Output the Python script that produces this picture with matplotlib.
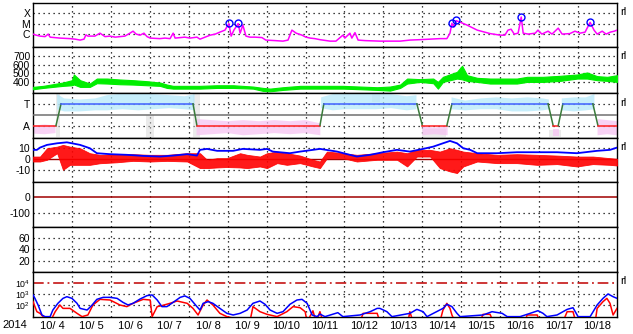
import numpy as np
import matplotlib
matplotlib.use('Agg')
import matplotlib.pyplot as plt
from matplotlib.ticker import NullLocator

plt.rcParams['font.family'] = ['Liberation Sans', 'DejaVu Sans']
plt.rcParams['font.size'] = 7.5
plt.rcParams['mathtext.default'] = 'regular'

nan = np.nan

# --- x-ray flux (log10 W/m2), time in day of October 2014
xray_t = [4.00, 4.08, 4.18, 4.31, 4.39, 4.44, 4.69, 4.95, 5.08, 5.21, 5.31, 5.36, 5.41, 5.59, 5.72,
          5.85, 5.98, 6.11, 6.36, 6.49, 6.57, 6.65, 6.75, 6.85, 6.93, 7.01, 7.26, 7.39, 7.52, 7.60,
          7.65, 7.90, 8.03, 8.21, 8.29, 8.42, 8.55, 8.68, 8.80, 8.93, 9.03, 9.09, 9.16, 9.27, 9.32,
          9.39, 9.47, 9.57, 9.70, 9.88, 9.98, 10.22, 10.42, 10.55, 10.65, 10.76, 10.91, 11.01, 11.12,
          11.24, 11.37, 11.63, 11.78, 11.96, 12.01, 12.14, 12.19, 12.27, 12.35, 12.53, 12.91, 13.43,
          13.68, 13.94, 14.20, 14.45, 14.63, 14.71, 14.76, 14.81, 14.87, 14.97, 15.15, 15.41, 15.74,
          16.00, 16.12, 16.20, 16.28, 16.36, 16.46, 16.54, 16.59, 16.72, 16.90, 16.97, 17.07, 17.23,
          17.33, 17.49, 17.59, 17.79, 17.92, 18.05, 18.18, 18.31, 18.41, 18.49, 18.62, 18.72, 18.83,
          18.93, 19.00]
xray_log = [-5.97, -6.07, -6.16, -6.21, -5.97, -6.26, -6.35, -6.40, -6.45, -6.54, -6.45, -6.04, -6.16, -6.16, -5.88,
            -6.21, -6.16, -6.26, -6.16, -5.88, -5.69, -5.97, -6.07, -5.88, -6.21, -6.35, -6.40, -6.35, -6.40, -5.88,
            -6.35, -6.26, -6.35, -6.26, -6.45, -6.26, -6.07, -5.97, -5.78, -5.59, -4.97, -6.16, -5.59, -4.97, -5.88,
            -5.11, -6.16, -6.26, -6.26, -6.30, -6.54, -6.59, -6.64, -6.54, -5.59, -5.88, -6.07, -6.26, -6.35,
            -6.40, -6.50, -6.64, -6.64, -6.07, -6.35, -5.88, -6.35, -5.83, -6.54, -6.59, -6.64, -6.64,
            -6.54, -6.50, -6.45, -6.40, -6.40, -5.88, -4.94, -5.30, -4.69, -4.83, -5.11, -5.59, -5.92,
            -6.07, -6.07, -5.59, -5.50, -5.97, -5.88, -4.34, -5.88, -5.97, -5.88, -5.59, -5.97, -5.69,
            -5.97, -5.40, -5.97, -5.92, -5.69, -5.88, -5.78, -4.85, -5.59, -5.97, -5.69, -5.97, -5.78,
            -5.69, -5.59]
flare_t = [9.03, 9.27, 14.76, 14.87, 16.54, 18.31]
flare_log = [-4.94, -4.94, -4.92, -4.67, -4.32, -4.83]

# --- solar wind speed band (km/s)
sw_t = [4.00, 4.26, 4.51, 4.77, 5.00, 5.05, 5.21, 5.46, 5.64, 5.90, 6.23, 6.57, 6.93, 7.26, 7.44,
        7.60, 7.96, 8.29, 8.72, 9.14, 9.65, 9.91, 10.09, 10.42, 10.86, 11.30, 11.72, 11.96, 12.40,
        12.84, 13.17, 13.43, 13.61, 13.94, 14.28, 14.40, 14.53, 14.89, 15.02, 15.15, 15.41, 15.74,
        16.08, 16.43, 16.69, 17.10, 17.54, 17.98, 18.23, 18.49, 18.75, 19.00]
sw_lo = [315, 330, 342, 354, 361, 370, 342, 342, 385, 381, 373, 369, 361, 354, 330,
         322, 322, 322, 330, 330, 322, 295, 291, 307, 322, 322, 322, 322, 315,
         307, 299, 330, 381, 400, 385, 322, 400, 439, 430, 412, 400, 381,
         381, 381, 400, 400, 412, 439, 439, 420, 412, 400]
sw_hi = [342, 354, 373, 393, 420, 486, 420, 381, 439, 439, 428, 420, 408, 393, 369,
         354, 354, 354, 361, 361, 346, 330, 322, 338, 354, 354, 354, 354, 346,
         338, 346, 369, 439, 432, 439, 400, 459, 517, 588, 478, 447, 439,
         439, 439, 459, 459, 471, 486, 510, 467, 459, 478]

# --- IMF sector (T = +1, A = -1)
sector_t = [4.00, 4.59, 4.72, 8.11, 8.21, 11.37, 11.47, 13.86, 14.00, 14.63, 14.76, 17.23,
            17.36, 17.49, 17.61, 18.38, 18.51, 19.00]
sector_v = [-1, -1, 1, 1, -1, -1, 1, 1, -1, -1, 1, 1, -1, -1, 1, 1, -1, -1]
cyan_t = [4.62, 4.80, 5.20, 5.60, 5.90, 6.30, 6.70, 7.10, 7.50, 7.90, 8.15, nan,
          11.40, 11.70, 12.00, 12.40, 12.80, 13.20, 13.60, 13.85, nan,
          14.75, 15.10, 15.50, 15.90, 16.30, 16.70, 17.10, 17.25, nan,
          17.58, 17.90, 18.20, 18.42]
cyan_lo = [0.5, 0.3, 0.3, 0.4, 0.4, 0.5, 0.4, 0.5, 0.6, 0.5, 0.4, nan,
           0.6, 0.4, 0.5, 0.5, 0.5, 0.6, 0.4, 0.5, nan,
           0.5, 0.4, 0.5, 0.5, 0.3, 0.3, 0.4, 0.5, nan,
           0.4, 0.3, 0.4, 0.5]
cyan_hi = [1.9, 1.5, 1.4, 1.5, 1.8, 1.95, 1.95, 1.9, 1.8, 1.7, 1.9, nan,
           1.6, 1.9, 1.95, 1.95, 1.95, 1.9, 1.7, 1.8, nan,
           1.6, 1.3, 1.5, 1.6, 1.5, 1.6, 1.5, 1.4, nan,
           1.5, 1.6, 1.6, 1.9]
pink_t = [4.0, 4.3, 4.58, nan, 8.2, 8.6, 9.0, 9.4, 9.8, 10.2, 10.6, 11.0, 11.38, nan,
          14.0, 14.3, 14.65, nan, 17.35, 17.5, nan, 18.5, 18.75, 19.0]
pink_lo = [-1.75, -1.8, -1.7, nan, -1.9, -1.8, -1.7, -1.9, -1.8, -1.7, -1.8, -1.7, -1.9, nan,
           -1.9, -1.8, -1.9, nan, -2.0, -2.0, nan, -1.9, -1.8, -1.9]
pink_hi = [-1.0, -0.9, -1.0, nan, -0.4, -0.5, -0.6, -0.5, -0.6, -0.5, -0.6, -0.5, -0.8, nan,
           -1.0, -1.2, -1.0, nan, -1.3, -1.3, nan, -0.4, -0.5, -0.6]
gray_t = [4.58, 4.70, nan, 6.90, 7.10, nan, 8.10, 8.30, nan, 12.70, 12.90, nan, 14.0, 14.6, nan, 17.25, 17.55]
gray_lo = [-2.1, -2.1, nan, -2.1, -2.1, nan, -2.1, -2.1, nan, 1.2, 1.2, nan, -2.1, -2.1, nan, -2.1, -2.1]
gray_hi = [1.9, 1.9, nan, 0.0, 0.0, nan, 1.9, 1.9, nan, 1.9, 1.9, nan, -1.3, -1.3, nan, -1.4, -1.4]

# --- IMF Bt (blue) and Bz envelope (red), nT
bt_t = [4.00, 4.10, 4.18, 4.36, 4.62, 4.87, 5.00, 5.21, 5.46, 5.64, 5.98, 6.41, 6.83, 7.26, 7.60,
        7.96, 8.21, 8.29, 8.47, 8.73, 9.14, 9.39, 9.83, 10.01, 10.16, 10.60, 10.86, 11.19, 11.37,
        11.81, 12.07, 12.32, 12.66, 12.99, 13.35, 13.68, 14.02, 14.28, 14.53, 14.71, 14.89, 15.05,
        15.23, 15.41, 15.92, 16.43, 16.95, 17.46, 17.97, 18.49, 18.82, 19.00]
bt_v = [8.5, 8.5, 10.6, 13.1, 14.6, 15.5, 14.6, 13.1, 10.0, 5.4, 4.5, 3.9, 2.9, 2.3, 3.2,
        4.5, 3.2, 8.5, 9.4, 7.6, 7.6, 9.4, 8.5, 9.4, 6.9, 5.4, 6.9, 8.5, 9.4,
        6.9, 4.5, 2.3, 3.9, 6.3, 8.5, 6.9, 9.4, 11.5, 14.6, 16.8, 14.6, 10.0,
        8.5, 5.4, 5.4, 6.3, 6.3, 6.3, 5.4, 7.6, 8.5, 10.6]
bz_t = [4.00, 4.18, 4.36, 4.62, 4.77, 4.95, 5.21, 5.46, 5.72, 6.16, 6.57, 7.01, 7.44, 7.96, 8.29,
        8.47, 8.73, 8.98, 9.32, 9.50, 9.83, 10.01, 10.27, 10.52, 10.86, 11.19, 11.37, 11.55, 11.96,
        12.32, 12.84, 13.35, 13.61, 13.86, 14.20, 14.45, 14.71, 14.89, 15.05, 15.41, 15.92, 16.43,
        16.95, 17.46, 17.97, 18.38, 18.82, 19.00]
bz_hi = [2.3, 2.3, 10.0, 11.5, 13.1, 11.5, 10.0, 5.4, 3.9, 4.5, 4.5, 3.9, 3.9, 5.4, 5.4,
         -0.7, 0.8, 0.8, 5.4, 3.9, 2.3, 5.4, 6.9, 5.4, 3.2, -0.7, -2.3, 6.9, 5.4,
         3.9, 5.4, 6.9, 5.4, 8.5, 8.5, 6.9, 10.0, 8.5, 6.9, 5.4, 3.9, 4.5,
         3.9, 3.2, 2.3, 2.3, 0.8, 0.2]
bz_lo = [-2.3, -2.3, -0.7, 5.4, -10.0, -5.4, -5.4, -5.4, -3.9, -3.0, -1.7, -2.3, -1.7, -2.3, -8.4,
         -8.4, -7.8, -7.4, -7.8, -8.4, -6.9, -8.4, -3.8, -5.4, -3.8, -6.9, -8.4, 0.8, 0.8,
         -2.3, -0.7, -0.7, -6.9, 2.3, 2.3, -8.4, -11.5, -13.0, -6.9, -2.3, -3.8, -3.8,
         -5.4, -4.7, -6.9, -4.7, -5.4, -6.0]

# --- bottom panel (log10 counts), blue and red
pb_t = [4.00, 4.05, 4.13, 4.23, 4.31, 4.44, 4.51, 4.64, 4.77, 4.87, 5.00, 5.13, 5.21, 5.39, 5.52,
        5.64, 5.80, 5.98, 6.16, 6.31, 6.44, 6.57, 6.75, 6.93, 7.06, 7.19, 7.31, 7.44, 7.60, 7.78,
        7.90, 8.03, 8.21, 8.29, 8.37, 8.50, 8.62, 8.80, 8.98, 9.14, 9.32, 9.50, 9.65, 9.83, 9.96,
        10.09, 10.27, 10.42, 10.60, 10.78, 10.91, 11.04, 11.17, 11.30, 11.37, 11.50, 11.71, 11.83,
        11.96, 12.40, 12.66, 12.84, 12.91, 13.09, 13.22, 13.68, 13.86, 14.02, 14.12, 14.53, 14.63,
        14.76, 14.89, 14.97, 15.56, 15.79, 16.05, 16.18, 16.51, 16.77, 16.97, 17.10, 17.20, 17.46,
        17.72, 17.87, 18.00, 18.31, 18.49, 18.64, 18.77, 18.90, 19.00]
pb_log = [2.94, 2.63, 2.03, 1.12, 0.97, 0.97, 1.57, 2.18, 2.63, 2.78, 2.63, 2.18, 1.72, 1.57, 2.03,
          2.54, 2.72, 2.72, 2.63, 2.27, 2.03, 2.18, 2.57, 2.88, 2.94, 2.48, 1.88, 1.88, 2.27, 2.72,
          2.85, 2.63, 1.88, 1.57, 2.18, 2.33, 2.18, 1.72, 1.27, 1.12, 1.27, 1.57, 2.18, 2.39, 2.09,
          1.57, 1.27, 1.42, 2.09, 2.48, 2.54, 2.18, 1.12, 0.97, 1.20, 0.97, 1.20, 1.33,
          0.97, 1.12, 1.42, 1.72, 1.72, 1.42, 0.97, 1.27, 1.63, 1.42, 0.97, 1.72, 2.09,
          1.88, 1.27, 0.97, 1.12, 1.42, 1.27, 0.97, 0.97, 1.27, 1.51, 1.27, 0.97, 1.12,
          1.63, 1.78, 0.97, 0.97, 2.03, 2.63, 3.03, 2.78, 2.63]
pr_t = [4.00, 4.10, 4.18, 4.26, 4.44, 4.57, 4.69, 4.77, 4.95, 5.13, 5.26, 5.41, 5.54, 5.72, 5.98,
        6.23, 6.41, 6.57, 6.83, 7.01, 7.06, 7.19, 7.31, 7.52, 7.70, 7.96, 8.11, 8.24, 8.37, 8.47,
        8.62, 8.80, 8.98, 9.57, 9.65, 9.83, 10.01, 10.27, 10.52, 10.68, 10.86, 10.99, 11.04, 11.19,
        11.27, 11.37, 11.45, 12.40, 12.48, 12.84, 12.91, 13.63, 13.68, 13.76, 14.45, 14.53, 14.63,
        14.71, 14.76, 14.84, 15.48, 15.56, 15.74, 15.82, 16.64, 16.69, 16.95, 17.02, 17.61, 17.72,
        17.87, 17.94, 18.44, 18.49, 18.64, 18.74, 18.82, 18.90, 19.00]
pr_log = [2.33, 1.42, 1.27, 0.97, 0.50, 1.42, 2.03, 1.72, 1.72, 1.27, 0.97, 1.12, 2.03, 2.54, 2.48,
          2.03, 1.88, 2.18, 2.54, 2.48, 0.97, 1.88, 1.97, 2.18, 2.39, 2.18, 1.72, 1.12, 2.03, 2.48,
          2.03, 1.27, 0.97, 0.50, 1.88, 1.42, 1.18, 0.97, 1.42, 1.88, 1.78, 1.42, 0.50, 1.50,
          0.50, 1.42, 0.50, 0.50, 1.27, 1.27, 0.50, 0.50, 1.42, 0.50, 0.50, 1.57, 2.18,
          1.72, 1.12, 0.50, 0.50, 1.18, 1.18, 0.50, 0.50, 1.12, 1.12, 0.50, 0.50, 1.42,
          1.42, 0.50, 0.50, 1.72, 2.33, 2.63, 2.18, 1.12, 1.72]

day_labels = ['10/ 4', '10/ 5', '10/ 6', '10/ 7', '10/ 8', '10/ 9', '10/10', '10/11', '10/12',
              '10/13', '10/14', '10/15', '10/16', '10/17', '10/18']

W, H = 633, 334
fig = plt.figure(figsize=(W / 100, H / 100), dpi=100)
dots = (0, (1, 3))


def panel(top, bot, ylim, log=False):
    ax = fig.add_axes([33 / W, 1 - bot / H, 584 / W, (bot - top) / H])
    if log:
        ax.set_yscale('log')
        ax.yaxis.set_minor_locator(NullLocator())
    ax.set_xlim(4, 19)
    ax.set_ylim(*ylim)
    ax.set_xticks([])
    ax.tick_params(length=0, pad=2)
    for d in range(5, 19):
        ax.axvline(d, color='k', linestyle=dots, linewidth=0.9, zorder=1)
    for s in ax.spines.values():
        s.set_linewidth(1.0)
    return ax


def hgrid(ax, levels):
    for v in levels:
        ax.axhline(v, color='k', linestyle=dots, linewidth=0.9, zorder=1)


# panel 1: x-ray
ax1 = panel(3, 47, (10 ** -7.2, 10 ** -3.0), log=True)
hgrid(ax1, [1e-4, 1e-5, 1e-6])
ax1.set_yticks([1e-4, 1e-5, 1e-6], ['X', 'M', 'C'])
ax1.plot(xray_t, 10 ** np.array(xray_log), color='#ff00ff', lw=1.1, zorder=3)
ax1.plot(flare_t, 10 ** np.array(flare_log), 'o', mfc='none', mec='#0000ff', ms=5, mew=1, zorder=4)

# panel 2: solar wind speed
ax2 = panel(47, 93, (271, 806))
hgrid(ax2, [400, 500, 600, 700])
ax2.set_yticks([400, 500, 600, 700])
ax2.fill_between(sw_t, sw_lo, sw_hi, color='#00ee00', lw=0.8, zorder=3)

# panel 3: sector
ax3 = panel(93, 138, (-2.15, 2.0))
hgrid(ax3, [1, -1])
ax3.set_yticks([1, -1], ['T', 'A'])
ax3.fill_between(gray_t, gray_lo, gray_hi, color='#d8d8d8', alpha=0.5, lw=0, zorder=2)
ax3.fill_between(cyan_t, cyan_lo, cyan_hi, color='#b0e8fa', alpha=0.7, lw=0, zorder=2)
ax3.fill_between(pink_t, pink_lo, pink_hi, color='#f6c0f2', alpha=0.7, lw=0, zorder=2)
ax3.axhline(0, color='#707070', lw=1.1, zorder=3)
for i in range(len(sector_t) - 1):
    a, b = sector_v[i], sector_v[i + 1]
    c = '#4060ff' if a == b == 1 else '#ff2020' if a == b == -1 else '#3a7a3a'
    ax3.plot(sector_t[i:i + 2], sector_v[i:i + 2], color=c, lw=1.1, zorder=4)

# panel 4: IMF
ax4 = panel(138, 182, (-21.3, 19.5))
hgrid(ax4, [10, -10])
ax4.set_yticks([10, 0, -10], ['10', '0', '-10'])
ax4.axhline(0, color='#a00000', lw=1, zorder=2)
ax4.fill_between(bz_t, bz_lo, bz_hi, color='#ff0000', alpha=0.9, lw=0.6, zorder=3)
ax4.plot(bt_t, bt_v, color='#0000ff', lw=1.3, zorder=4)

# panel 5
ax5 = panel(182, 227, (-190, 95))
hgrid(ax5, [-100])
ax5.set_yticks([0, -100], ['0', '-100'])
ax5.axhline(0, color='#a00000', lw=1.1, zorder=2)

# panel 6
ax6 = panel(227, 271.7, (0, 80))
hgrid(ax6, [20, 40, 60])
ax6.set_yticks([20, 40, 60])

# panel 7
ax7 = panel(271.7, 317.3, (10 ** 0.91, 10 ** 5.05), log=True)
hgrid(ax7, [1e2, 1e3])
ax7.set_yticks([1e2, 1e3, 1e4], ['$10^2$', '$10^3$', '$10^4$'])
ax7.tick_params(axis='y', labelsize=6.3)
ax7.axhline(1e4, color='#c00000', lw=1.1, linestyle=(0, (7, 2.5, 1.2, 2.5)), zorder=2)
ax7.plot(pr_t, 10 ** np.array(pr_log), color='#ff0000', lw=1.1, zorder=3)
ax7.plot(pb_t, 10 ** np.array(pb_log), color='#0000ff', lw=1.1, zorder=4)
ax7.set_xticks(np.arange(4.5, 19, 1.0), day_labels)
ax7.tick_params(axis='x', length=0, pad=3, labelsize=8)

fig.text(15 / W, 1 - 325 / H, '2014', ha='center', va='center', fontsize=8)
for y in [12, 56, 103, 147, 281]:
    fig.text(620 / W, 1 - y / H, 'rl', ha='left', va='center', fontsize=8)

fig.savefig('out.png', dpi=100)
